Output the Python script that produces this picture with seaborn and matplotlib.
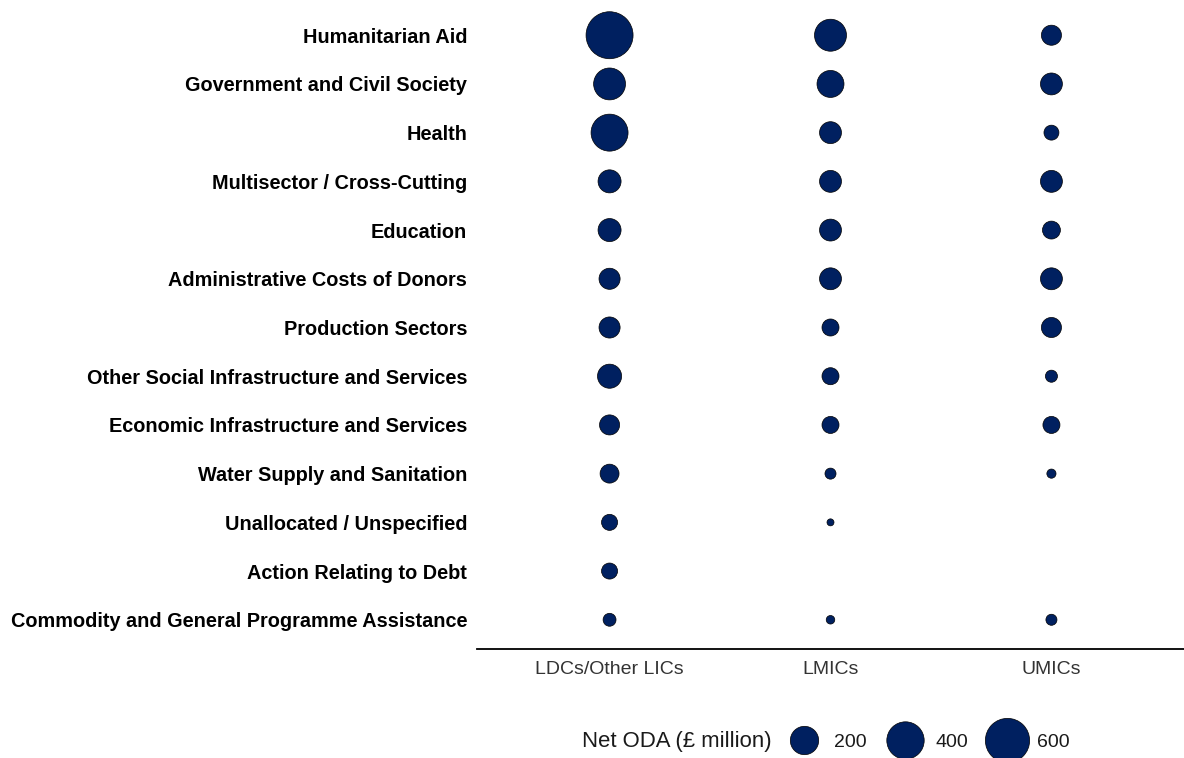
import numpy as np
import pandas as pd
import matplotlib
matplotlib.use("Agg")
import matplotlib.pyplot as plt
import matplotlib.colors as mcolors
from matplotlib.lines import Line2D
import seaborn as sns

sectors = [
    "Humanitarian Aid",
    "Government and Civil Society",
    "Health",
    "Multisector / Cross-Cutting",
    "Education",
    "Administrative Costs of Donors",
    "Production Sectors",
    "Other Social Infrastructure and Services",
    "Economic Infrastructure and Services",
    "Water Supply and Sanitation",
    "Unallocated / Unspecified",
    "Action Relating to Debt",
    "Commodity and General Programme Assistance",
]
income_groups = ["LDCs/Other LICs", "LMICs", "UMICs"]

# net ODA in £ million (nan = no bubble)
ldc_oda = [690, 270, 390, 115, 115, 90, 90, 130, 78, 66, 40, 40, 20]
lmic_oda = [272, 176, 100, 100, 100, 100, 48, 48, 48, 12, 5, np.nan, 6]
umic_oda = [78, 100, 32, 100, 56, 100, 78, 16, 48, 7, np.nan, np.nan, 12]

legend_values = [200, 400, 600]

size_col = "Net ODA (£ million)"
navy = "#002060"

df = pd.DataFrame({"Sector": sectors,
                   income_groups[0]: ldc_oda,
                   income_groups[1]: lmic_oda,
                   income_groups[2]: umic_oda})
df = df.melt(id_vars="Sector", var_name="Income group", value_name=size_col)
df = df.dropna()

# ggplot-like size scale: diameter grows with sqrt of the rescaled value
vmin, vmax = 5, 690
d_lo, d_hi = 7, 47  # bubble diameter in px


def fwd(v):
    f = np.clip((np.asarray(v, dtype=float) - vmin) / (vmax - vmin), 0, 1)
    return (d_lo + (d_hi - d_lo) * np.sqrt(f)) ** 2


def inv(d2):
    return vmin + (vmax - vmin) * ((np.sqrt(d2) - d_lo) / (d_hi - d_lo)) ** 2


size_norm = mcolors.FuncNorm((fwd, inv), vmin=vmin, vmax=vmax)
px = 0.72  # points per pixel at dpi 100
sizes = ((d_lo * px) ** 2, (d_hi * px) ** 2)

sns.set_style("white")
plt.rcParams["font.family"] = ["Liberation Sans", "DejaVu Sans"]

fig = plt.figure(figsize=(11.84, 7.58), dpi=100)
ax = fig.add_axes([477 / 1184, 1 - 649 / 758, 707 / 1184, 643 / 758])

sns.scatterplot(data=df, x="Income group", y="Sector", size=size_col,
                sizes=sizes, size_norm=size_norm, color=navy,
                edgecolor="black", linewidth=0.5, legend=False, ax=ax)

ax.set_xlim(-0.6, 2.6)
ax.set_ylim(len(sectors) - 0.4, -0.6)
ax.set_xlabel("")
ax.set_ylabel("")
ax.set_yticks(range(len(sectors)), sectors, fontweight="bold", fontsize=14.3)
ax.set_xticks(range(len(income_groups)), income_groups, fontsize=14)
ax.tick_params(axis="y", length=0, pad=7, labelcolor="black")
ax.tick_params(axis="x", length=4, width=1, color="#333333",
               labelcolor="#333333", pad=5)

sns.despine(ax=ax, left=True, top=True, right=True)
ax.spines["bottom"].set_linewidth(1.3)
ax.spines["bottom"].set_color("black")

# size legend, same scale as the bubbles
handles = []
for v in legend_values:
    s = sizes[0] + float(size_norm(v)) * (sizes[1] - sizes[0])
    handles.append(Line2D([], [], linestyle="", marker="o",
                          markersize=np.sqrt(s), markerfacecolor=navy,
                          markeredgecolor="black", markeredgewidth=0.5))
leg = fig.legend(handles, [str(v) for v in legend_values],
                 loc="center left", bbox_to_anchor=(788 / 1184, 1 - 742 / 758),
                 ncol=3, frameon=False, fontsize=14, handlelength=1.6,
                 handletextpad=0.75, columnspacing=1.2, borderpad=0,
                 borderaxespad=0)
for t in leg.get_texts():
    t.set_color("#1a1a1a")

fig.text(582 / 1184, 1 - 742 / 758, size_col, fontsize=15.9,
         va="center", ha="left", color="#1a1a1a")

fig.savefig("out.png", dpi=100)
